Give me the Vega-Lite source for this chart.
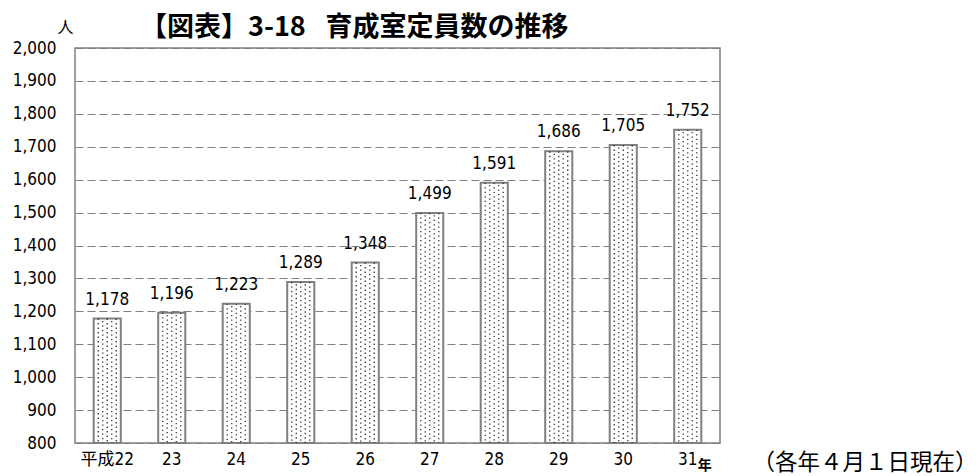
{
  "$schema": "https://vega.github.io/schema/vega-lite/v6.json",
  "width": 645,
  "height": 395,
  "autosize": "none",
  "padding": {"left": 75, "top": 48, "right": 259, "bottom": 33},
  "background": "white",
  "title": {
    "text": "【図表】3-18\u2002 育成室定員数の推移",
    "anchor": "start",
    "frame": "group",
    "dx": 65,
    "dy": 23,
    "offset": 0,
    "font": "Noto Sans CJK JP",
    "fontSize": 27,
    "fontWeight": "bold",
    "color": "#000"
  },
  "config": {
    "view": {"stroke": "#808080", "strokeWidth": 1.5},
    "font": "DejaVu Sans Condensed, Noto Sans CJK JP"
  },
  "data": {
    "values": [
      {"year": "平成22", "value": 1178},
      {"year": "23", "value": 1196},
      {"year": "24", "value": 1223},
      {"year": "25", "value": 1289},
      {"year": "26", "value": 1348},
      {"year": "27", "value": 1499},
      {"year": "28", "value": 1591},
      {"year": "29", "value": 1686},
      {"year": "30", "value": 1705},
      {"year": "31", "value": 1752}
    ]
  },
  "encoding": {
    "x": {
      "field": "year", "type": "nominal", "sort": null,
      "scale": {"paddingInner": 0.58, "paddingOuter": 0.29},
      "axis": {
        "title": "（各年４月１日現在）",
        "titleX": 677, "titleY": 19, "titleAlign": "left", "titleBaseline": "middle",
        "titleFont": "Noto Sans CJK JP", "titleFontSize": 22.5, "titleFontWeight": "normal", "titleColor": "#000",
        "labelAngle": 0, "labelFontSize": 17, "labelColor": "#000", "labelPadding": 14,
        "labelFont": "DejaVu Sans Condensed, Noto Sans CJK JP",
        "domain": false, "ticks": true, "tickSize": -6, "tickColor": "#808080", "bandPosition": 0,
        "grid": false
      }
    },
    "y": {
      "field": "value", "type": "quantitative",
      "scale": {"domain": [800, 2000], "nice": false, "zero": false},
      "axis": {
        "values": [800, 900, 1000, 1100, 1200, 1300, 1400, 1500, 1600, 1700, 1800, 1900, 2000],
        "format": ",d", "labelOverlap": false,
        "title": "人", "titleAngle": 0, "titleX": -10, "titleY": -21, "titleAlign": "center", "titleBaseline": "middle",
        "titleFont": "Noto Sans CJK JP", "titleFontSize": 16, "titleFontWeight": "normal", "titleColor": "#000",
        "labelFontSize": 17, "labelColor": "#000", "labelPadding": 19,
        "labelFont": "DejaVu Sans Condensed, Noto Sans CJK JP",
        "ticks": false, "domain": false,
        "grid": true, "gridColor": "#808080", "gridDash": [8, 4], "gridWidth": 1
      }
    }
  },
  "layer": [
    {
      "mark": {"type": "bar", "fill": "white", "stroke": "#808080", "strokeWidth": 2},
      "encoding": {"y2": {"datum": 800}}
    },
    {
      "mark": {"type": "rule", "xOffset": -9, "stroke": "#333", "strokeWidth": 1.3, "strokeDash": [1.3, 3.2], "strokeDashOffset": 0},
      "encoding": {"y2": {"datum": 800}}
    },
    {
      "mark": {"type": "rule", "xOffset": -4.5, "stroke": "#333", "strokeWidth": 1.3, "strokeDash": [1.3, 3.2], "strokeDashOffset": 2.2},
      "encoding": {"y2": {"datum": 800}}
    },
    {
      "mark": {"type": "rule", "xOffset": 0, "stroke": "#333", "strokeWidth": 1.3, "strokeDash": [1.3, 3.2], "strokeDashOffset": 0},
      "encoding": {"y2": {"datum": 800}}
    },
    {
      "mark": {"type": "rule", "xOffset": 4.5, "stroke": "#333", "strokeWidth": 1.3, "strokeDash": [1.3, 3.2], "strokeDashOffset": 2.2},
      "encoding": {"y2": {"datum": 800}}
    },
    {
      "mark": {"type": "rule", "xOffset": 9, "stroke": "#333", "strokeWidth": 1.3, "strokeDash": [1.3, 3.2], "strokeDashOffset": 0},
      "encoding": {"y2": {"datum": 800}}
    },
    {
      "mark": {"type": "text", "baseline": "bottom", "dy": -10, "fontSize": 17, "color": "#000", "font": "DejaVu Sans Condensed, Noto Sans CJK JP"},
      "encoding": {
        "text": {"field": "value", "type": "quantitative", "format": ",d"}
      }
    },
    {
      "transform": [{"filter": "datum.year == '31'"}],
      "mark": {"type": "text", "baseline": "middle", "align": "center", "dx": 17, "dy": 23, "fontSize": 14, "fontWeight": "bold", "color": "#000", "font": "Noto Sans CJK JP"},
      "encoding": {
        "y": {"datum": 800, "type": "quantitative"},
        "text": {"value": "年"}
      }
    }
  ]
}
